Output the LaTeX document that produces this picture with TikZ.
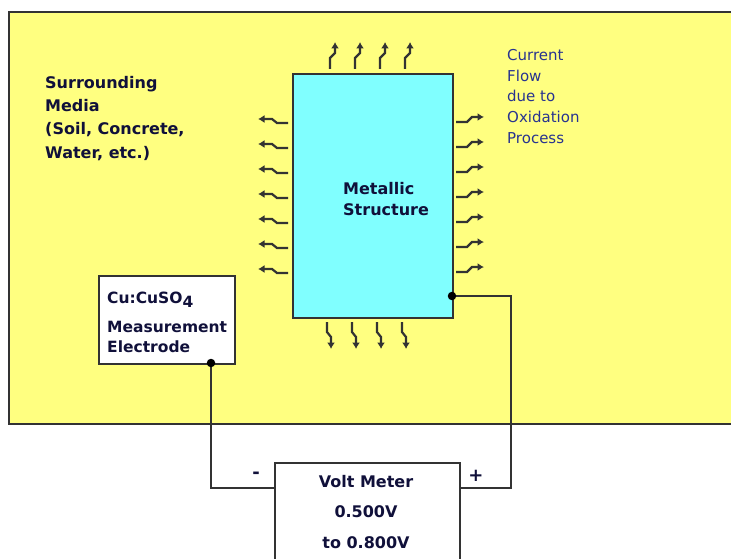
\documentclass[tikz,border=0pt]{standalone}
\usepackage{fontspec}
\setmainfont{DejaVu Sans}
\usetikzlibrary{arrows.meta}
\definecolor{media}{HTML}{FFFF80}
\definecolor{metal}{HTML}{80FFFF}
\definecolor{ink}{HTML}{10103A}
\definecolor{flowtext}{HTML}{283390}
\definecolor{wire}{HTML}{333333}
\tikzset{
  lbl/.style={inner sep=0pt, anchor=base west, text=ink, font=\bfseries\fontsize{16}{19}\selectfont},
  elbl/.style={inner sep=0pt, anchor=base west, text=ink, font=\bfseries\fontsize{15.5}{19}\selectfont},
  mlbl/.style={inner sep=0pt, anchor=base, text=ink, font=\bfseries\fontsize{16}{19}\selectfont},
  flbl/.style={inner sep=0pt, anchor=base west, text=flowtext, font=\fontsize{15}{19}\selectfont},
  boxshape/.style={draw=wire, line width=1.8pt, inner sep=0pt},
  flowarrow/.style={draw=wire, line width=2.2pt, -{Latex[length=6.5pt,width=8pt]}},
  wireline/.style={draw=wire, line width=1.8pt},
  dot/.style={circle, fill=black, inner sep=0pt, minimum size=8.5pt}
}
\begin{document}
\begin{tikzpicture}[x=1pt,y=-1pt]
\useasboundingbox (0,0) rectangle (731,559);
\fill[white] (0,0) rectangle (731,559);
% surrounding media
\node[boxshape, fill=media, minimum width=740pt, minimum height=412pt, anchor=north west] (media) at (8,11) {};
% metallic structure
\node[boxshape, fill=metal, minimum width=160pt, minimum height=244pt, anchor=north west] (metal) at (292,73) {};
\node[lbl] (m1) at (343,194) {Metallic};
\node[lbl] (m2) at (343,215) {Structure};
% surrounding text
\node[lbl] (s1) at (45,89) {Surrounding};
\node[lbl] (s2) at (45,112) {Media};
\node[lbl] (s3) at (45,135) {(Soil, Concrete,};
\node[lbl] (s4) at (45,158) {Water, etc.)};
% current flow text
\node[flbl] (c1) at (507,61) {Current};
\node[flbl] (c2) at (507,81.5) {Flow};
\node[flbl] (c3) at (507,102) {due to};
\node[flbl] (c4) at (507,122.5) {Oxidation};
\node[flbl] (c5) at (507,143) {Process};
% electrode
\node[boxshape, fill=white, minimum width=136pt, minimum height=88pt, anchor=north west] (elec) at (98,275) {};
\node[elbl] (e1) at (107,303) {Cu:CuSO\raisebox{-0.3em}{4}};
\node[elbl] (e2) at (107,332) {Measurement};
\node[elbl] (e3) at (107,352) {Electrode};
% volt meter
\node[boxshape, fill=white, minimum width=185pt, minimum height=120pt, anchor=north west] (meter) at (274,462) {};
\node[mlbl] (v1) at (366,487) {Volt Meter};
\node[mlbl] (v2) at (366,517) {0.500V};
\node[mlbl] (v3) at (366,548) {to 0.800V};
\node[mlbl, font=\bfseries\fontsize{18}{19}\selectfont] (minus) at (256,478) {-};
\node[mlbl, font=\bfseries\fontsize{18}{19}\selectfont] (plus) at (476,481) {+};
% connection points
\coordinate (mpt) at (452,296);
\coordinate (ept) at (211,363);
\coordinate (mcorner) at (511,296);
\coordinate (mlow) at (511,488);
\coordinate (elow) at (211,488);
\coordinate (meterL) at (274,488);
\coordinate (meterR) at (459,488);
\draw[wireline] (mpt) -- (mcorner) -- (mlow) -- (meterR);
\draw[wireline] (ept) -- (elow) -- (meterL);
\node[dot] (mdot) at (mpt) {};
\node[dot] (edot) at (ept) {};
% flow arrows
\foreach \x in {330,355,380,405}
  \draw[flowarrow] (\x,69) -- (\x,58) -- (\x+5,53) -- (\x+5,42);
\foreach \x in {327,352,377,402}
  \draw[flowarrow] (\x,322) -- (\x,332) -- (\x+4,337) -- (\x+4,349);
\foreach \y in {123,148,173,198,223,248,273}
  \draw[flowarrow] (288,\y) -- (277,\y) -- (272,\y-4) -- (258,\y-4);
\foreach \y in {122,147,172,197,222,247,272}
  \draw[flowarrow] (456,\y) -- (467,\y) -- (472,\y-5) -- (484,\y-5);
\end{tikzpicture}
\end{document}
